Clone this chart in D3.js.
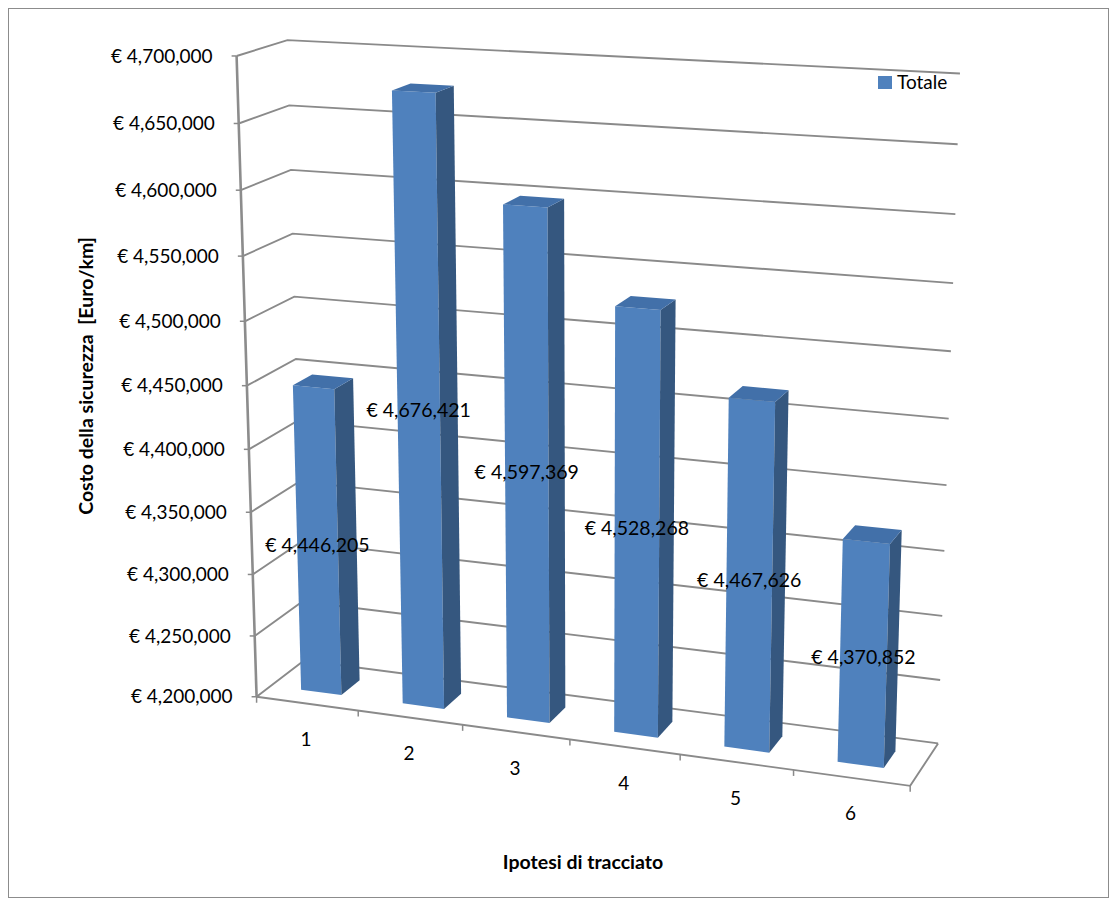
<!doctype html>
<html>
<head>
<meta charset="utf-8">
<title>Costo della sicurezza</title>
<style type="text/css">
body { margin: 0; background: #fff; }
svg { display: block; font-family: Lato, "Open Sans", sans-serif; }
</style>
<script src="https://cdnjs.cloudflare.com/ajax/libs/d3/7.8.5/d3.min.js"></script>
</head>
<body>
<script type="text/javascript">
var width = 1118;
var height = 905;

// data
var categories = ["1", "2", "3", "4", "5", "6"];
var totals = [4446205, 4676421, 4597369, 4528268, 4467626, 4370852];
var valueTicks = [4200000, 4250000, 4300000, 4350000, 4400000, 4450000,
                  4500000, 4550000, 4600000, 4650000, 4700000];
var seriesName = "Totale";

// screen position of the plot box corners and floor ticks
// world: x 0..1 along categories, y 0..1 along values, z 0 (front) .. 1 (back)
var calib = [
	[0, 0, 0, 257, 697],
	[0, 1, 0, 237, 55],
	[0, 1, 1, 287, 41],
	[0, 0, 1, 303.5, 660],
	[1, 1, 1, 960, 73.5],
	[1, 0, 1, 939, 743],
	[1, 0, 0, 909.5, 786],
	[1/6, 0, 0, 358.3, 710.8],
	[2/6, 0, 0, 462.7, 725],
	[4/6, 0, 0, 680.7, 754.6],
	[5/6, 0, 0, 792.7, 770]
];

// least squares fit of a perspective camera (DLT) so the box lines up
function solve(M, r) {
	var n = r.length, c, k, j;
	for (c = 0; c < n; c++) {
		var p = c;
		for (k = c + 1; k < n; k++) if (Math.abs(M[k][c]) > Math.abs(M[p][c])) p = k;
		var t = M[c]; M[c] = M[p]; M[p] = t;
		var tr = r[c]; r[c] = r[p]; r[p] = tr;
		for (k = c + 1; k < n; k++) {
			var f = M[k][c] / M[c][c];
			for (j = c; j < n; j++) M[k][j] -= f * M[c][j];
			r[k] -= f * r[c];
		}
	}
	var x = new Array(n);
	for (c = n - 1; c >= 0; c--) {
		var s = r[c];
		for (j = c + 1; j < n; j++) s -= M[c][j] * x[j];
		x[c] = s / M[c][c];
	}
	return x;
}

function fitCamera(pts) {
	var A = [], b = [];
	pts.forEach(function(p) {
		var X = p[0], Y = p[1], Z = p[2], u = p[3] / 1000, v = p[4] / 1000;
		A.push([X, Y, Z, 1, 0, 0, 0, 0, -u * X, -u * Y, -u * Z]); b.push(u);
		A.push([0, 0, 0, 0, X, Y, Z, 1, -v * X, -v * Y, -v * Z]); b.push(v);
	});
	var M = [], r = [];
	for (var i = 0; i < 11; i++) {
		M.push([]);
		var s = 0;
		for (var j = 0; j < 11; j++) {
			var m = 0;
			for (var k = 0; k < A.length; k++) m += A[k][i] * A[k][j];
			M[i].push(m);
		}
		for (k = 0; k < A.length; k++) s += A[k][i] * b[k];
		r.push(s);
	}
	return solve(M, r);
}

var P = fitCamera(calib);

function proj(x, y, z) {
	var w = P[8] * x + P[9] * y + P[10] * z + 1;
	return [1000 * (P[0] * x + P[1] * y + P[2] * z + P[3]) / w,
	        1000 * (P[4] * x + P[5] * y + P[6] * z + P[7]) / w];
}

function poly(pts) {
	return "M" + pts.map(function(p) { return proj(p[0], p[1], p[2]).join(","); }).join("L") + "Z";
}
function line(pts) {
	return "M" + pts.map(function(p) { return proj(p[0], p[1], p[2]).join(","); }).join("L");
}

var xScale = d3.scaleBand()
	.domain(categories)
	.range([0, 1])
	.paddingInner(0.6)
	.paddingOuter(0.3);

var yScale = d3.scaleLinear()
	.domain([4200000, 4700000])
	.range([0, 1]);

var zFront = 0.3, zBack = 0.7;

var fmt = function(d) { return "\u20ac " + d3.format(",")(d); };

var svg = d3.select("body").append("svg")
	.attr("width", width)
	.attr("height", height);

// chart border
svg.append("rect")
	.attr("x", 8.5).attr("y", 8.5)
	.attr("width", 1100).attr("height", 889)
	.attr("fill", "#fff")
	.attr("stroke", "#8c8c8c")
	.attr("stroke-width", 1);

var gridColor = "#8a8a8a";

// gridlines on left wall and back wall
svg.append("g").selectAll(".grid")
	.data(valueTicks)
	.enter().append("path")
	.classed("grid", true)
	.attr("d", function(d) {
		var y = yScale(d);
		return line([[0, y, 0], [0, y, 1], [1, y, 1]]);
	})
	.attr("fill", "none")
	.attr("stroke", gridColor)
	.attr("stroke-width", 1.9);

// floor outline (front and right edges)
svg.append("path")
	.attr("d", line([[0, 0, 0], [1, 0, 0], [1, 0, 1]]))
	.attr("fill", "none")
	.attr("stroke", gridColor)
	.attr("stroke-width", 1.9);

// category ticks
svg.append("g").selectAll(".ctick")
	.data(d3.range(categories.length + 1))
	.enter().append("line")
	.classed("ctick", true)
	.attr("x1", function(k) { return proj(k / categories.length, 0, 0)[0]; })
	.attr("x2", function(k) { return proj(k / categories.length, 0, 0)[0]; })
	.attr("y1", function(k) { return proj(k / categories.length, 0, 0)[1]; })
	.attr("y2", function(k) { return proj(k / categories.length, 0, 0)[1] + 6; })
	.attr("stroke", gridColor)
	.attr("stroke-width", 1.5);

// value axis line and ticks
svg.append("path")
	.attr("d", line([[0, 0, 0], [0, 1, 0]]))
	.attr("stroke", "#8c8c8c")
	.attr("stroke-width", 2.6);

svg.append("g").selectAll(".vtick")
	.data(valueTicks)
	.enter().append("line")
	.classed("vtick", true)
	.attr("x1", function(d) { return proj(0, yScale(d), 0)[0] - 5; })
	.attr("x2", function(d) { return proj(0, yScale(d), 0)[0]; })
	.attr("y1", function(d) { return proj(0, yScale(d), 0)[1]; })
	.attr("y2", function(d) { return proj(0, yScale(d), 0)[1]; })
	.attr("stroke", gridColor)
	.attr("stroke-width", 1.5);

svg.append("g").selectAll(".vlabel")
	.data(valueTicks)
	.enter().append("text")
	.classed("vlabel", true)
	.attr("x", function(d) { return proj(0, yScale(d), 0)[0] - 24; })
	.attr("y", function(d) { return proj(0, yScale(d), 0)[1]; })
	.attr("dy", "0.35em")
	.attr("text-anchor", "end")
	.style("font-size", "19px")
	.text(fmt);

// category labels
svg.append("g").selectAll(".clabel")
	.data(categories)
	.enter().append("text")
	.classed("clabel", true)
	.attr("x", function(d) { return proj(xScale(d) + xScale.bandwidth() / 2, 0, 0)[0] - 1; })
	.attr("y", function(d) { return proj(xScale(d) + xScale.bandwidth() / 2, 0, 0)[1] + 36; })
	.attr("dy", "0.35em")
	.attr("text-anchor", "middle")
	.style("font-size", "19px")
	.text(function(d) { return d; });

// bars
var rows = categories.map(function(c, i) { return {cat: c, value: totals[i]}; });

var bars = svg.append("g").selectAll(".bar")
	.data(rows)
	.enter().append("g")
	.classed("bar", true);

bars.append("path")		// front face
	.attr("d", function(d) {
		var x0 = xScale(d.cat), x1 = x0 + xScale.bandwidth(), y = yScale(d.value);
		return poly([[x0, 0, zFront], [x1, 0, zFront], [x1, y, zFront], [x0, y, zFront]]);
	})
	.attr("fill", "#4f81bd");

bars.append("path")		// right side
	.attr("d", function(d) {
		var x1 = xScale(d.cat) + xScale.bandwidth(), y = yScale(d.value);
		return poly([[x1, 0, zFront], [x1, 0, zBack], [x1, y, zBack], [x1, y, zFront]]);
	})
	.attr("fill", "#35577f");

bars.append("path")		// top
	.attr("d", function(d) {
		var x0 = xScale(d.cat), x1 = x0 + xScale.bandwidth(), y = yScale(d.value);
		return poly([[x0, y, zFront], [x1, y, zFront], [x1, y, zBack], [x0, y, zBack]]);
	})
	.attr("fill", "#4270a9");

// data labels at the middle of each bar
svg.append("g").selectAll(".dlabel")
	.data(rows)
	.enter().append("text")
	.classed("dlabel", true)
	.attr("x", function(d) { return proj(xScale(d.cat) + xScale.bandwidth() / 2, yScale(d.value) / 2, zFront)[0]; })
	.attr("y", function(d) { return proj(xScale(d.cat) + xScale.bandwidth() / 2, yScale(d.value) / 2, zFront)[1] + 3; })
	.attr("dy", "0.35em")
	.attr("text-anchor", "middle")
	.style("font-size", "19.5px")
	.text(function(d) { return fmt(d.value); });

// legend
svg.append("rect")
	.attr("x", 878).attr("y", 76)
	.attr("width", 14).attr("height", 13)
	.attr("fill", "#4f81bd");
svg.append("text")
	.attr("x", 897).attr("y", 82)
	.attr("dy", "0.35em")
	.style("font-size", "19px")
	.text(seriesName);

// axis titles
svg.append("text")
	.attr("transform", "translate(86,376) rotate(-90)")
	.attr("dy", "0.35em")
	.attr("text-anchor", "middle")
	.style("font-size", "19.5px")
	.style("font-weight", "bold")
	.style("white-space", "pre")
	.text("Costo della sicurezza  [Euro/km]");

svg.append("text")
	.attr("x", 583).attr("y", 862)
	.attr("dy", "0.35em")
	.attr("text-anchor", "middle")
	.style("font-size", "19.5px")
	.style("font-weight", "bold")
	.text("Ipotesi di tracciato");
</script>
</body>
</html>
